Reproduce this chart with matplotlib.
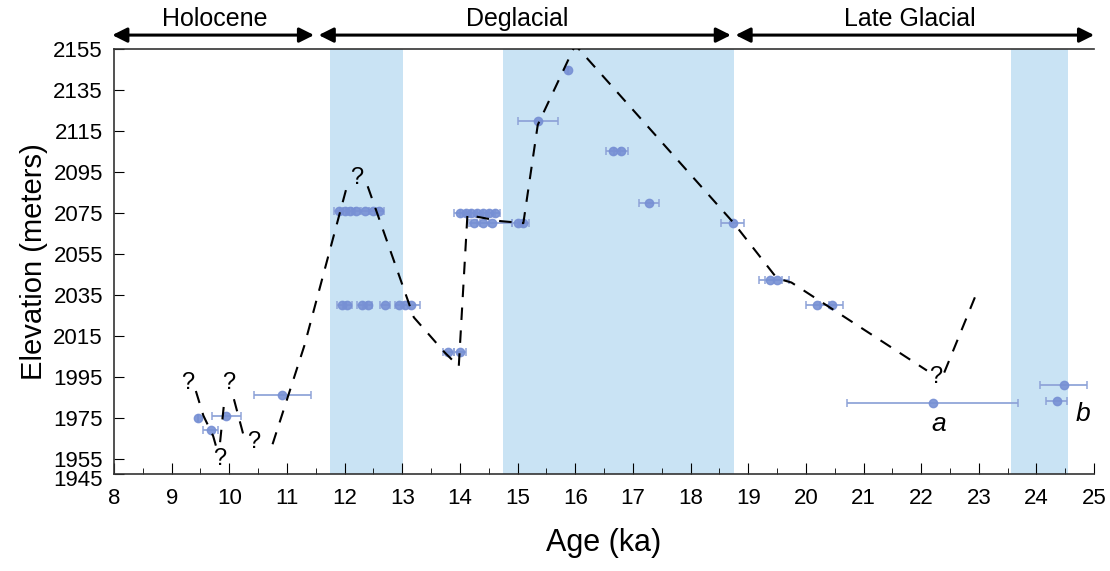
import numpy as np
import matplotlib
matplotlib.use("Agg")
import matplotlib.pyplot as plt
import matplotlib.transforms as mtransforms
from matplotlib.ticker import MultipleLocator

plt.rcParams['font.family'] = ['Liberation Sans', 'DejaVu Sans']

# sample ages (ka), elevations (m) and age errors (ka)
ages = [9.46, 9.68, 9.95, 10.92,
        11.9, 12.0, 12.1, 12.2, 12.35, 12.5, 12.6,
        11.95, 12.05, 12.3, 12.4, 12.7, 12.95, 13.05, 13.15,
        13.8, 14.0,
        14.0, 14.1, 14.2, 14.3, 14.4, 14.5, 14.6,
        14.25, 14.4, 14.55, 15.0, 15.1,
        15.88, 15.35, 16.65, 16.8, 17.28, 18.73,
        19.38, 19.5, 20.2, 20.45,
        22.2, 24.47, 24.35]
elev = [1975, 1969, 1976, 1986,
        2076, 2076, 2076, 2076, 2076, 2076, 2076,
        2030, 2030, 2030, 2030, 2030, 2030, 2030, 2030,
        2007, 2007,
        2075, 2075, 2075, 2075, 2075, 2075, 2075,
        2070, 2070, 2070, 2070, 2070,
        2145, 2120, 2105, 2105, 2080, 2070,
        2042, 2042, 2030, 2030,
        1982, 1991, 1983]
age_err = [0, 0.13, 0.25, 0.5,
           0.08, 0.08, 0.08, 0.08, 0.08, 0.08, 0.08,
           0.08, 0.08, 0.08, 0.08, 0.08, 0.08, 0.08, 0.15,
           0.1, 0.1,
           0.1, 0.1, 0.1, 0.1, 0.1, 0.1, 0.1,
           0.1, 0.1, 0.35, 0.1, 0.1,
           0, 0.35, 0.12, 0.12, 0.18, 0.2,
           0.2, 0.2, 0.2, 0.2,
           1.48, 0.41, 0.18]

# cold periods (shaded)
shade_start = [11.75, 14.75, 23.55]
shade_end = [13.02, 18.75, 24.55]

# inferred lake level (dashed), drawn as pieces
level_pieces = [
    ([9.42, 9.55, 9.72, 9.8], [1988, 1976, 1966, 1958]),
    ([9.84, 9.92], [1963, 1985]),
    ([10.08, 10.25], [1984, 1966]),
    ([10.75, 11.3, 12.05], [1962, 2010, 2089]),
    ([12.4, 13.2, 13.73, 13.98, 14.13, 14.7, 15.1, 15.35, 16.0,
      18.75, 19.5, 19.75, 22.1],
     [2088, 2024, 2007, 2000, 2074, 2071, 2070, 2118, 2157,
      2070, 2043, 2041, 1998]),
    ([22.4, 22.95], [1997, 2035]),
]
question_x = [9.27, 9.98, 9.83, 10.42, 12.2, 22.25]
question_y = [1992, 1992, 1955, 1963, 2092, 1995]

periods = ["Holocene", "Deglacial", "Late Glacial"]
period_start = [7.97, 11.55, 18.78]
period_end = [11.47, 18.7, 25.0]
period_label_x = [9.75, 15.0, 21.8]

yticks = [1955, 1975, 1995, 2015, 2035, 2055, 2075, 2095, 2115, 2135, 2155]
y_bottom = 1947.5


fig = plt.figure(figsize=(11.1, 5.71), dpi=100)
ax = fig.add_axes([0.1027, 0.170, 0.883, 0.744])

for s, e in zip(shade_start, shade_end):
    ax.axvspan(s, e, color='#c9e3f4', lw=0, zorder=0)

ax.errorbar(ages, elev, xerr=age_err, fmt='o', ms=6, color='#7790d4',
            ecolor='#8ea3d8', elinewidth=1.4, capsize=3, capthick=1.2,
            alpha=0.9, zorder=3)

for px, py in level_pieces:
    ax.plot(px, py, color='black', lw=1.5, dashes=(6, 5), zorder=4)

for qx, qy in zip(question_x, question_y):
    ax.text(qx, qy, "?", fontsize=17, ha='center', va='center', zorder=5)

ax.text(22.3, 1972, "a", fontsize=19, style='italic', ha='center', va='center')
ax.text(24.8, 1977, "b", fontsize=19, style='italic', ha='center', va='center')

# period arrows above the plot
trans = ax.get_xaxis_transform()
for name, s, e, lx in zip(periods, period_start, period_end, period_label_x):
    ax.annotate("", xy=(s, 1.033), xytext=(e, 1.033), xycoords=trans,
                textcoords=trans,
                arrowprops=dict(arrowstyle='<|-|>', color='black', lw=2.2,
                                mutation_scale=22, shrinkA=0, shrinkB=0),
                annotation_clip=False)
    ax.text(lx, 1.07, name, transform=trans, fontsize=18, ha='center', va='center')

ax.set_xlim(8, 25)
ax.set_ylim(y_bottom, 2155)
ax.set_yticks([y_bottom] + yticks)
ax.set_yticklabels(["1945"] + [str(t) for t in yticks])
ax.xaxis.set_major_locator(MultipleLocator(1))
ax.xaxis.set_minor_locator(MultipleLocator(0.5))
ax.tick_params(axis='both', which='major', direction='in', labelsize=16)
ax.tick_params(axis='x', which='major', length=8, pad=10)
ax.tick_params(axis='x', which='minor', direction='in', length=4)
ax.tick_params(axis='y', length=7, pad=8)
ax.spines['right'].set_visible(False)
for side in ['left', 'bottom', 'top']:
    ax.spines[side].set_linewidth(1.2)
    ax.spines[side].set_color('#333333')

# nudge the squeezed bottom label down a little
lab0 = ax.get_yticklabels()[0]
lab0.set_transform(lab0.get_transform() +
                   mtransforms.ScaledTranslation(0, -3 / 72, fig.dpi_scale_trans))

ax.set_xlabel("Age (ka)", fontsize=22, labelpad=14)
ax.set_ylabel("Elevation (meters)", fontsize=21, labelpad=4)

fig.savefig("out.png", dpi=100)
